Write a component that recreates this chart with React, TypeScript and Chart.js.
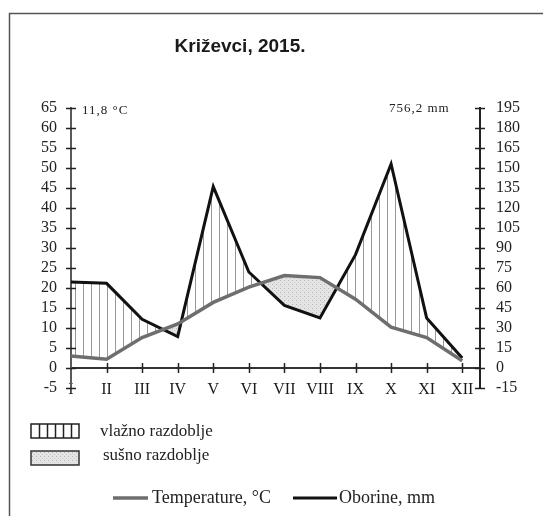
import React, { useEffect, useRef } from 'react';
import { Chart, registerables } from 'chart.js';

Chart.register(...registerables);

// ---- data ----
const months = ['I', 'II', 'III', 'IV', 'V', 'VI', 'VII', 'VIII', 'IX', 'X', 'XI', 'XII'];
const temperature = [3.0, 2.2, 7.6, 11.0, 16.4, 20.2, 23.1, 22.6, 17.2, 10.2, 7.6, 1.8];
const precipitation = [64.5, 63.5, 36.5, 23.5, 136, 72, 47, 37.5, 85, 153, 37.5, 7.5];
const tempMin = -5;
const tempMax = 65;
const tempStep = 5;
const precipMin = -15;
const precipMax = 195;
const precipStep = 15;
const titleText = 'Križevci, 2015.';
const meanTempText = '11,8 °C';
const totalPrecipText = '756,2 mm';
const humidLabel = 'vlažno razdoblje';
const dryLabel = 'sušno razdoblje';
const tempLabel = 'Temperature, °C';
const precipLabel = 'Oborine, mm';

const SERIF = "'Liberation Serif', 'Times New Roman', serif";
const SANS = "'Liberation Sans', Arial, sans-serif";
const TEMP_COLOR = '#6e6e6e';
const PRECIP_COLOR = '#111111';

function makeHatchCanvas(): HTMLCanvasElement {
  const c = document.createElement('canvas');
  c.width = 8;
  c.height = 8;
  const g = c.getContext('2d')!;
  g.strokeStyle = '#999999';
  g.lineWidth = 1;
  g.beginPath();
  g.moveTo(3.5, 0);
  g.lineTo(3.5, 8);
  g.stroke();
  return c;
}

function makeDotsCanvas(): HTMLCanvasElement {
  const c = document.createElement('canvas');
  c.width = 4;
  c.height = 4;
  const g = c.getContext('2d')!;
  g.fillStyle = '#e4e4e4';
  g.fillRect(0, 0, 4, 4);
  g.fillStyle = '#b8b8b8';
  g.fillRect(0, 0, 1, 1);
  g.fillStyle = '#cacaca';
  g.fillRect(2, 2, 1, 1);
  return c;
}

export default function App() {
  const ref = useRef<HTMLCanvasElement | null>(null);

  useEffect(() => {
    const canvas = ref.current;
    if (!canvas) return;
    const ctx = canvas.getContext('2d')!;
    const hatch = ctx.createPattern(makeHatchCanvas(), 'repeat')!;
    const dots = ctx.createPattern(makeDotsCanvas(), 'repeat')!;

    const decor = {
      id: 'decor',
      beforeDraw(chart: any) {
        const c = chart.ctx;
        c.save();
        c.fillStyle = '#ffffff';
        c.fillRect(0, 0, chart.width, chart.height);
        c.strokeStyle = '#555';
        c.lineWidth = 1.5;
        c.beginPath();
        c.moveTo(9.5, 516);
        c.lineTo(9.5, 13.5);
        c.lineTo(543, 13.5);
        c.stroke();
        c.restore();
      },
      afterDraw(chart: any) {
        const c = chart.ctx;
        const area = chart.chartArea;
        const sx = chart.scales.x;
        const sy = chart.scales.y;
        const sy1 = chart.scales.y1;
        c.save();
        // cross tick marks
        c.strokeStyle = '#222';
        c.lineWidth = 1.5;
        c.beginPath();
        sy.ticks.forEach((t: any) => {
          const py = Math.round(sy.getPixelForValue(t.value)) + 0.5;
          c.moveTo(area.left - 5, py);
          c.lineTo(area.left + 5, py);
        });
        sy1.ticks.forEach((t: any) => {
          const py = Math.round(sy1.getPixelForValue(t.value)) + 0.5;
          c.moveTo(area.right - 5, py);
          c.lineTo(area.right + 5, py);
        });
        const zeroY = sy.getPixelForValue(0);
        sx.ticks.forEach((t: any) => {
          if (t.value === 0) return;
          const px = Math.round(sx.getPixelForValue(t.value)) + 0.5;
          c.moveTo(px, zeroY - 5);
          c.lineTo(px, zeroY + 5);
        });
        c.stroke();

        // title
        c.fillStyle = '#1a1a1a';
        c.font = `bold 19px ${SANS}`;
        c.textAlign = 'center';
        c.textBaseline = 'middle';
        c.fillText(titleText, 240, 47);

        // annotations
        c.font = `13px ${SERIF}`;
        c.textAlign = 'left';
        c.fillStyle = '#222';
        (c as any).letterSpacing = '1px';
        c.fillText(meanTempText, 82, 111);
        c.fillText(totalPrecipText, 389, 109);
        (c as any).letterSpacing = '0px';

        // period legend boxes
        const bx = 31;
        const bw = 48;
        const bh = 14;
        // humid
        c.fillStyle = '#fff';
        c.fillRect(bx, 424, bw, bh);
        c.strokeStyle = '#222';
        c.lineWidth = 1.5;
        c.beginPath();
        for (let i = 1; i < 6; i++) {
          const lx = Math.round(bx + (bw * i) / 6) + 0.5;
          c.moveTo(lx, 424);
          c.lineTo(lx, 424 + bh);
        }
        c.stroke();
        c.strokeRect(bx, 424, bw, bh);
        // dry
        c.fillStyle = dots;
        c.fillRect(bx, 451, bw, bh);
        c.strokeStyle = '#333';
        c.strokeRect(bx, 451, bw, bh);

        c.fillStyle = '#222';
        c.font = `17px ${SERIF}`;
        c.textBaseline = 'middle';
        c.fillText(humidLabel, 100, 432);
        c.fillText(dryLabel, 103, 456);

        // series legend
        c.lineWidth = 3.5;
        c.strokeStyle = TEMP_COLOR;
        c.beginPath();
        c.moveTo(113, 498);
        c.lineTo(148, 498);
        c.stroke();
        c.lineWidth = 3;
        c.strokeStyle = PRECIP_COLOR;
        c.beginPath();
        c.moveTo(293, 498);
        c.lineTo(337, 498);
        c.stroke();
        c.fillStyle = '#222';
        c.font = `18px ${SERIF}`;
        c.fillText(tempLabel, 152, 498);
        c.fillText(precipLabel, 339, 498);
        c.restore();
      },
    };

    const tickFont = { family: SERIF, size: 16 };

    const chart = new Chart(canvas, {
      type: 'line',
      data: {
        datasets: [
          {
            label: tempLabel,
            data: temperature.map((v, i) => ({ x: i, y: v })),
            yAxisID: 'y',
            borderColor: TEMP_COLOR,
            borderWidth: 3.5,
            pointRadius: 0,
            tension: 0,
            fill: false,
          },
          {
            label: precipLabel,
            data: precipitation.map((v, i) => ({ x: i, y: v })),
            yAxisID: 'y1',
            borderColor: PRECIP_COLOR,
            borderWidth: 3,
            pointRadius: 0,
            tension: 0,
            backgroundColor: hatch as any,
            fill: { target: '-1', above: hatch as any, below: dots as any },
          },
        ],
      },
      options: {
        responsive: false,
        animation: false,
        layout: { padding: { top: 108, bottom: 128, left: 0, right: 0 } },
        plugins: {
          legend: { display: false },
          tooltip: { enabled: false },
          title: { display: false },
        },
        scales: {
          x: {
            type: 'linear',
            position: { y: 0 } as any,
            min: 0,
            max: 11.5,
            afterBuildTicks: (s: any) => {
              s.ticks = months.map((_, i) => ({ value: i }));
            },
            ticks: {
              autoSkip: false,
              maxRotation: 0,
              padding: 12,
              color: '#1a1a1a',
              font: tickFont,
              callback: (v: any) => months[Math.round(Number(v))] ?? '',
            },
            grid: { drawOnChartArea: false, drawTicks: false },
            border: { display: true, color: '#333', width: 2 },
          },
          y: {
            position: 'left',
            min: tempMin,
            max: tempMax,
            ticks: { stepSize: tempStep, autoSkip: false, padding: 14, color: '#222', font: tickFont },
            grid: { drawOnChartArea: false, drawTicks: false },
            border: { display: true, color: '#5a5a5a', width: 2 },
            afterFit: (s: any) => {
              s.width = 71;
            },
          },
          y1: {
            position: 'right',
            min: precipMin,
            max: precipMax,
            ticks: { stepSize: precipStep, autoSkip: false, padding: 16, color: '#222', font: tickFont },
            grid: { drawOnChartArea: false, drawTicks: false },
            border: { display: true, color: '#222', width: 2 },
            afterFit: (s: any) => {
              s.width = 63;
            },
          },
        },
      },
      plugins: [decor],
    });

    return () => chart.destroy();
  }, []);

  return (
    <div style={{ position: 'absolute', left: 0, top: 0, width: 543, height: 516 }}>
      <canvas ref={ref} width={543} height={516} style={{ display: 'block', width: 543, height: 516 }} />
    </div>
  );
}
